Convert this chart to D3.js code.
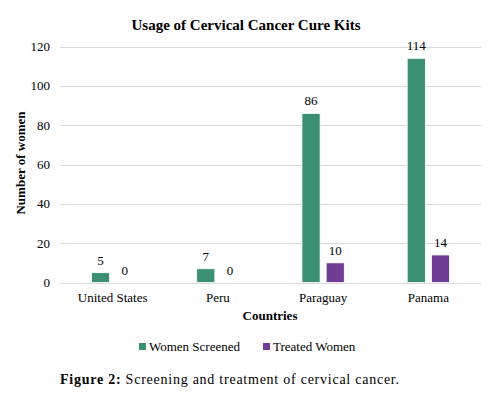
<!DOCTYPE html>
<html lang="en">
<head>
<meta charset="utf-8">
<title>Usage of Cervical Cancer Cure Kits</title>
<script src="https://cdn.jsdelivr.net/npm/d3@7"></script>
<style>
  body { margin: 0; background: #fff; }
  svg text { fill: #000; }
</style>
</head>
<body>
<svg width="499" height="393"></svg>
<script>
const countries = ["United States", "Peru", "Paraguay", "Panama"];
const seriesNames = ["Women Screened", "Treated Women"];
const screened = [5, 7, 86, 114];
const treated = [0, 0, 10, 14];
const yTicks = [0, 20, 40, 60, 80, 100, 120];
const colors = ["#3b8f73", "#6f3d96"];

const serif = "'Liberation Serif', 'Times New Roman', serif";
const svg = d3.select("svg").style("font-family", serif);
const plotLeft = 60, plotRight = 481, plotTop = 46.5, plotBottom = 282.5;

const x = d3.scaleBand().domain(countries).range([plotLeft, plotRight]);
const xs = d3.scaleBand().domain(seriesNames).range([0, x.bandwidth()]).paddingInner(0.25).paddingOuter(1.3);
const y = d3.scaleLinear().domain([0, 120]).range([plotBottom, plotTop]);

// grid lines
svg.append("g")
  .selectAll("line")
  .data(yTicks)
  .join("line")
    .attr("x1", plotLeft).attr("x2", plotRight)
    .attr("y1", d => Math.round(y(d)) + 0.5).attr("y2", d => Math.round(y(d)) + 0.5)
    .attr("stroke", "#d9d9d9").attr("stroke-width", 1);

// y tick labels
svg.append("g")
  .selectAll("text")
  .data(yTicks)
  .join("text")
    .attr("x", 50).attr("y", d => y(d))
    .attr("dy", "0.35em")
    .attr("text-anchor", "end")
    .attr("font-size", 13)
    .text(d => d);

const rows = countries.map((c, i) => ({ country: c, values: [screened[i], treated[i]] }));

const groups = svg.append("g")
  .selectAll("g")
  .data(rows)
  .join("g")
    .attr("transform", d => `translate(${x(d.country)},0)`);

groups.selectAll("rect")
  .data(d => d.values.map((v, k) => ({ name: seriesNames[k], value: v, k })))
  .join("rect")
    .attr("x", d => xs(d.name))
    .attr("width", xs.bandwidth())
    .attr("y", d => y(d.value))
    .attr("height", d => plotBottom - y(d.value))
    .attr("fill", d => colors[d.k])
    .attr("stroke", "#fff").attr("stroke-width", 0.8);

groups.selectAll("text")
  .data(d => d.values.map((v, k) => ({ name: seriesNames[k], value: v })))
  .join("text")
    .attr("x", d => xs(d.name) + xs.bandwidth() / 2)
    .attr("y", d => y(d.value) - 8)
    .attr("text-anchor", "middle")
    .attr("font-size", 13)
    .text(d => d.value);

// x labels
svg.append("g")
  .selectAll("text")
  .data(countries)
  .join("text")
    .attr("x", d => x(d) + x.bandwidth() / 2)
    .attr("y", 302)
    .attr("text-anchor", "middle")
    .attr("font-size", 13)
    .text(d => d);

// titles
svg.append("text")
  .attr("x", 246).attr("y", 30)
  .attr("text-anchor", "middle")
  .attr("font-size", 15).attr("font-weight", "bold")
  .text("Usage of Cervical Cancer Cure Kits");

svg.append("text")
  .attr("x", 270).attr("y", 320)
  .attr("text-anchor", "middle")
  .attr("font-size", 13).attr("font-weight", "bold")
  .text("Countries");

svg.append("text")
  .attr("transform", "translate(25,163) rotate(-90)")
  .attr("text-anchor", "middle")
  .attr("font-size", 13).attr("font-weight", "bold")
  .text("Number of women");

// legend
const legend = svg.append("g")
  .selectAll("g")
  .data(seriesNames)
  .join("g")
    .attr("transform", (d, i) => `translate(${[139, 263][i]},343)`);
legend.append("rect")
  .attr("width", 7).attr("height", 7)
  .attr("fill", (d, i) => colors[i]);
legend.append("text")
  .attr("x", 10).attr("y", 7.5)
  .attr("font-size", 13)
  .text(d => d);

// caption
const cap = svg.append("text")
  .attr("x", 60).attr("y", 384)
  .attr("font-size", 14)
  .attr("textLength", 339)
  .attr("lengthAdjust", "spacing");
cap.append("tspan").attr("font-weight", "bold").text("Figure 2:");
cap.append("tspan").text(" Screening and treatment of cervical cancer.");
</script>
</body>
</html>
